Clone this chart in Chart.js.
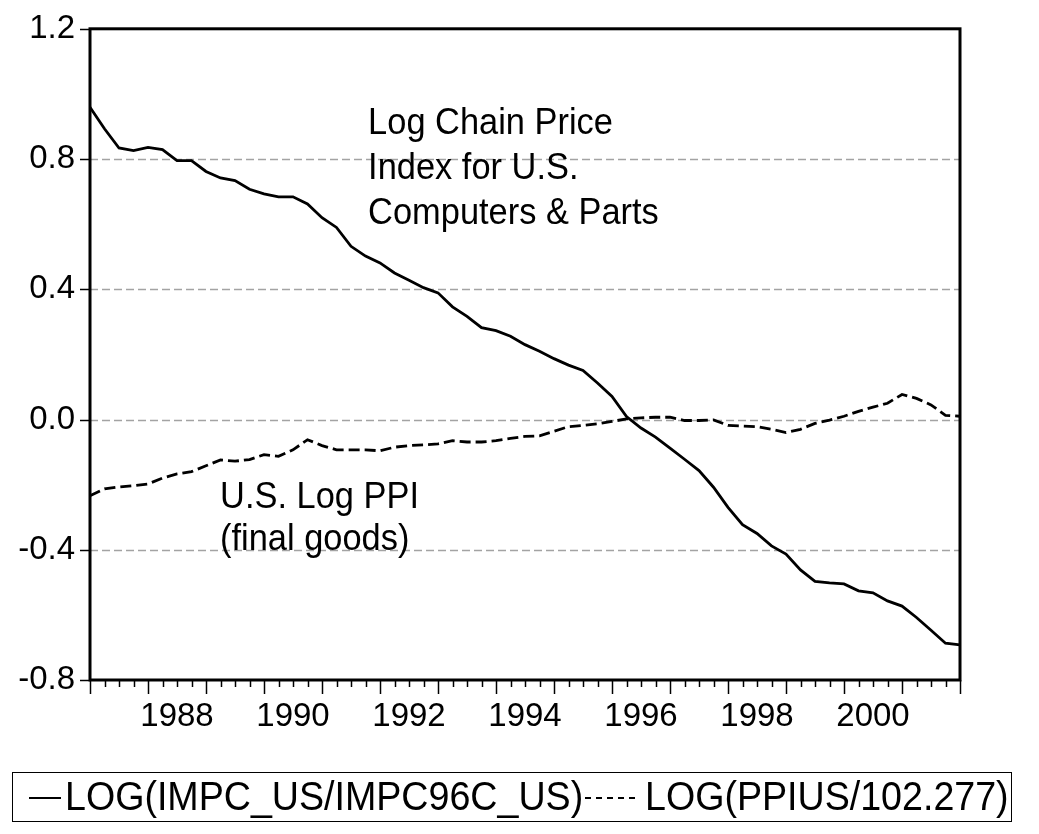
<!DOCTYPE html>
<html>
<head>
<meta charset="utf-8">
<script src="https://cdn.jsdelivr.net/npm/chart.js@4/dist/chart.umd.min.js"></script>
<style>
html,body{margin:0;padding:0;background:#fff;width:1039px;height:834px;overflow:hidden}
#wrap{position:absolute;left:0;top:-6px;width:1039px;height:840px}
#legend{position:absolute;left:12px;top:772px;width:1000px;height:50px;border:1.5px solid #000;box-sizing:border-box;
  font-family:"Liberation Sans",Arial,sans-serif;font-size:40px;color:#000;white-space:nowrap}
#legend .it{position:absolute;top:0;line-height:47px;transform-origin:0 50%;display:inline-block;transform:scaleX(0.94)}
#legend .sw{position:absolute;top:24px;height:0;border-top:2px solid #000}
#legend .sw.d{border-top:2px dashed #000}
</style>
</head>
<body>
<div id="wrap"><canvas id="c" width="1039" height="840"></canvas></div>
<div id="legend">
  <span class="sw" style="left:16px;width:32px"></span><span class="it" id="l1" style="left:52px"></span>
  <span class="sw d" id="d2" style="width:50px"></span><span class="it" id="l2"></span>
</div>
<script>
// Quarterly observations
const quarters = [
 '1987Q1','1987Q2','1987Q3','1987Q4','1988Q1','1988Q2','1988Q3','1988Q4',
 '1989Q1','1989Q2','1989Q3','1989Q4','1990Q1','1990Q2','1990Q3','1990Q4',
 '1991Q1','1991Q2','1991Q3','1991Q4','1992Q1','1992Q2','1992Q3','1992Q4',
 '1993Q1','1993Q2','1993Q3','1993Q4','1994Q1','1994Q2','1994Q3','1994Q4',
 '1995Q1','1995Q2','1995Q3','1995Q4','1996Q1','1996Q2','1996Q3','1996Q4',
 '1997Q1','1997Q2','1997Q3','1997Q4','1998Q1','1998Q2','1998Q3','1998Q4',
 '1999Q1','1999Q2','1999Q3','1999Q4','2000Q1','2000Q2','2000Q3','2000Q4',
 '2001Q1','2001Q2','2001Q3','2001Q4','2002Q1'
];
// LOG(IMPC_US/IMPC96C_US)
const logComputers = [
 0.959,0.893,0.834,0.826,0.836,0.829,0.795,0.795,
 0.762,0.742,0.734,0.707,0.693,0.684,0.684,0.662,
 0.620,0.590,0.532,0.502,0.481,0.450,0.428,0.405,
 0.389,0.346,0.317,0.282,0.273,0.256,0.230,0.210,
 0.187,0.167,0.151,0.112,0.071,0.009,-0.026,-0.054,
 -0.088,-0.122,-0.157,-0.208,-0.270,-0.323,-0.350,-0.388,
 -0.413,-0.462,-0.497,-0.502,-0.505,-0.526,-0.532,-0.557,
 -0.573,-0.608,-0.647,-0.687,-0.692
];
// LOG(PPIUS/102.277)
const logPPI = [
 -0.234,-0.213,-0.207,-0.203,-0.198,-0.180,-0.167,-0.160,
 -0.142,-0.124,-0.128,-0.123,-0.108,-0.113,-0.093,-0.062,
 -0.080,-0.093,-0.093,-0.093,-0.096,-0.085,-0.080,-0.078,
 -0.075,-0.065,-0.069,-0.069,-0.065,-0.058,-0.052,-0.050,
 -0.036,-0.022,-0.018,-0.013,-0.006,0.002,0.005,0.007,
 0.007,-0.003,-0.003,-0.001,-0.018,-0.020,-0.022,-0.030,
 -0.040,-0.030,-0.012,-0.002,0.010,0.025,0.038,0.050,
 0.077,0.065,0.045,0.013,0.010
];
const yearLabels = ['1988','1990','1992','1994','1996','1998','2000'];
const yTicks = [-0.8,-0.4,0.0,0.4,0.8,1.2];
const seriesNames = ['LOG(IMPC_US/IMPC96C_US)','LOG(PPIUS/102.277)'];
const noteComputers = ['Log Chain Price','Index for U.S.','Computers & Parts'];
const notePPI = ['U.S. Log PPI','(final goods)'];

const FONT = '"Liberation Sans", Arial, sans-serif';

// legend layout
(function(){
  const l1 = document.getElementById('l1'), l2 = document.getElementById('l2'), d2 = document.getElementById('d2');
  l1.textContent = seriesNames[0];
  l2.textContent = seriesNames[1];
  const end1 = 52 + l1.getBoundingClientRect().width;
  d2.style.left = (end1 + 2) + 'px';
  l2.style.left = (end1 + 62) + 'px';
})();

const frame = {
  id:'frame',
  beforeDatasetsDraw(chart){
    const {ctx, chartArea:a, scales:{y}} = chart;
    ctx.save();
    ctx.strokeStyle = '#a3a3a3'; ctx.lineWidth = 1.5; ctx.setLineDash([8,4]);
    yTicks.forEach(v=>{
      if (v <= y.min || v >= y.max) return;
      const py = Math.round(y.getPixelForValue(v))+0.5;
      ctx.beginPath(); ctx.moveTo(a.left, py); ctx.lineTo(a.right, py); ctx.stroke();
    });
    ctx.restore();
  },
  afterDatasetsDraw(chart){
    const {ctx, chartArea:a, scales:{x,y}} = chart;
    ctx.save();
    ctx.strokeStyle = '#000'; ctx.setLineDash([]);
    ctx.lineWidth = 1.5;
    yTicks.forEach(v=>{
      const py = Math.round(y.getPixelForValue(v))+0.5;
      ctx.beginPath(); ctx.moveTo(a.left-10, py); ctx.lineTo(a.left, py); ctx.stroke();
    });
    quarters.forEach((q,i)=>{
      const px = Math.round(x.getPixelForValue(i))+0.5;
      const major = q.endsWith('Q1');
      ctx.beginPath(); ctx.moveTo(px, a.bottom); ctx.lineTo(px, a.bottom + (major?14:7)); ctx.stroke();
    });
    ctx.lineWidth = 3;
    ctx.strokeRect(a.left, a.top, a.right-a.left, a.bottom-a.top);
    ctx.fillStyle = '#000';
    ctx.font = '37px ' + FONT;
    ctx.textBaseline = 'alphabetic';
    const put = (t, xv, yv) => {
      ctx.save();
      ctx.translate(x.getPixelForValue(xv), y.getPixelForValue(yv));
      ctx.scale(0.93, 1);
      ctx.fillText(t, 0, 0);
      ctx.restore();
    };
    noteComputers.forEach((t,k)=> put(t, 19.18, 0.878 - k*0.138));
    notePPI.forEach((t,k)=> put(t, 8.97, -0.271 - k*0.131));
    ctx.restore();
  }
};

new Chart(document.getElementById('c'), {
  type:'line',
  data:{
    labels: quarters,
    datasets:[
      {label:seriesNames[0], data:logComputers, borderColor:'#000', borderWidth:2.8, pointRadius:0, tension:0, fill:false},
      {label:seriesNames[1], data:logPPI, borderColor:'#000', borderWidth:2.8, borderDash:[11,5], pointRadius:0, tension:0, fill:false}
    ]
  },
  options:{
    responsive:false, animation:false, devicePixelRatio:1,
    layout:{padding:{left:0, top:22, right:79, bottom:0}},
    plugins:{legend:{display:false}, tooltip:{enabled:false}},
    scales:{
      x:{
        type:'category', offset:false,
        grid:{display:false, drawTicks:false}, border:{display:false},
        ticks:{
          autoSkip:false, maxRotation:0, minRotation:0, padding:17,
          color:'#000', font:{family:FONT, size:33},
          callback:function(v,i){
            const q = quarters[i];
            if (q && q.endsWith('Q3') && yearLabels.includes(q.slice(0,4))) return q.slice(0,4);
            return '';
          }
        },
        afterFit(s){ s.height = 154; }
      },
      y:{
        min:-0.8, max:1.2,
        grid:{display:false, drawTicks:false}, border:{display:false},
        afterBuildTicks(s){ s.ticks = yTicks.map(v=>({value:v})); },
        ticks:{ padding:15, color:'#000', font:{family:FONT, size:33},
          callback:v=>Number(v).toFixed(1) },
        afterFit(s){ s.width = 90; }
      }
    }
  },
  plugins:[frame]
});
</script>
</body>
</html>
